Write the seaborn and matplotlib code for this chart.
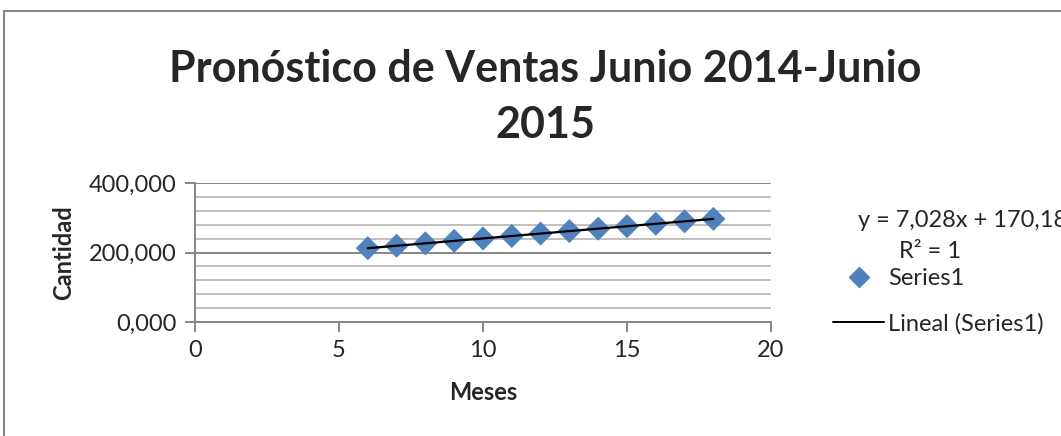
import numpy as np
import pandas as pd
import seaborn as sns
import matplotlib
matplotlib.use("Agg")
import matplotlib.pyplot as plt
from matplotlib.lines import Line2D
from matplotlib.patches import Rectangle
from matplotlib.ticker import FuncFormatter, MultipleLocator

# data (months 6..18, sales)
meses = [6, 7, 8, 9, 10, 11, 12, 13, 14, 15, 16, 17, 18]
cantidad = [212.35, 219.38, 226.40, 233.43, 240.46, 247.49, 254.52,
            261.54, 268.57, 275.60, 282.63, 289.66, 296.68]
x_ticks = [0, 5, 10, 15, 20]
y_ticks = [0, 200, 400]
titulo = "Pronóstico de Ventas Junio 2014-Junio\n2015"
ecuacion = "y = 7,028x + 170,18"
r2_text = "R² = 1"

df = pd.DataFrame({"Meses": meses, "Cantidad": cantidad})

sns.set_style("white")
plt.rcParams["font.family"] = ["Lato", "DejaVu Sans"]

blue = "#4F81BD"
grid_minor = "#BFBFBF"
grid_major = "#868686"

fig = plt.figure(figsize=(10.61, 4.36), dpi=100)
ax = fig.add_axes([195 / 1061, 1 - 322 / 436, (771 - 195) / 1061, (322 - 183) / 436])

sns.regplot(data=df, x="Meses", y="Cantidad", ci=None, marker="D", ax=ax,
            scatter_kws=dict(s=150, color=blue, edgecolors="none", alpha=1),
            line_kws=dict(color="black", lw=1.6))

ax.set_xlim(0, 20)
ax.set_ylim(0, 400)
ax.set_xticks(x_ticks)
ax.set_yticks(y_ticks)
ax.yaxis.set_minor_locator(MultipleLocator(40))
ax.yaxis.set_major_formatter(FuncFormatter(lambda v, p: f"{v:.3f}".replace(".", ",")))
ax.grid(which="minor", axis="y", color=grid_minor, lw=1.4)
ax.grid(which="major", axis="y", color=grid_major, lw=1.4)
ax.set_axisbelow(True)
for s in ["top", "right"]:
    ax.spines[s].set_visible(False)
for s in ["left", "bottom"]:
    ax.spines[s].set_color(grid_major)
    ax.spines[s].set_linewidth(1.4)
ax.tick_params(axis="both", which="major", direction="out", length=7, width=1.4,
               color=grid_major, labelsize=17, pad=6, bottom=True, left=True)
ax.tick_params(axis="y", which="minor", length=0)
ax.set_xlabel("Meses", fontsize=17, fontweight="bold", labelpad=14)
ax.set_ylabel("Cantidad", fontsize=17, fontweight="bold", labelpad=10)

fig.text(545 / 1061, 1 - 97 / 436, titulo, ha="center", va="center",
         fontsize=31, fontweight="bold", linespacing=1.5)

# trendline label sits at the right edge, cut off as in the original
fig.text(858 / 1061, 1 - 220 / 436, ecuacion, ha="left", va="center", fontsize=17)
fig.text(930 / 1061, 1 - 251 / 436, r2_text, ha="center", va="center", fontsize=17)

handles = [
    Line2D([], [], marker="D", ls="none", color=blue, markersize=10),
    Line2D([], [], color="black", lw=1.4),
]
fig.legend(handles, ["Series1", "Lineal (Series1)"], loc="upper left",
           bbox_to_anchor=(824 / 1061, 1 - 259 / 436), frameon=False,
           fontsize=17, labelspacing=1.0, handlelength=2.15, handletextpad=0.15,
           borderaxespad=0)

fig.patches.append(Rectangle((4 / 1061, -0.1), 1.2, (436 - 11) / 436 + 0.1,
                             transform=fig.transFigure, fill=False,
                             edgecolor=grid_major, lw=1.5))

fig.savefig("out.png", dpi=100)
